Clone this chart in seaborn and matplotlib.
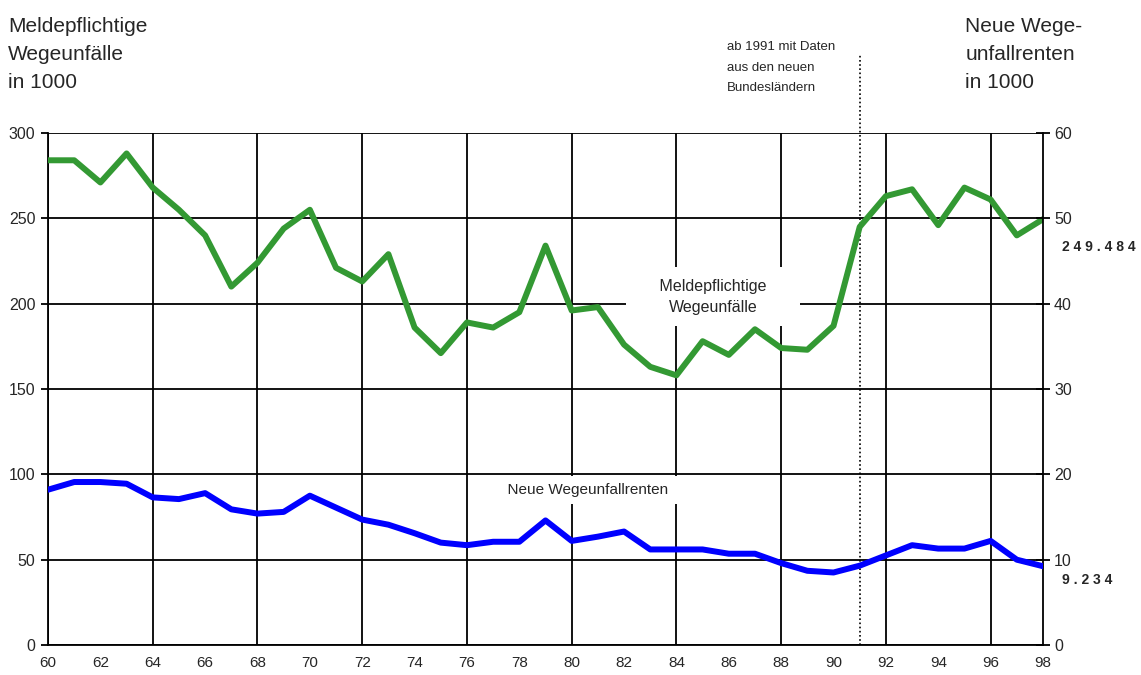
import numpy as np
import pandas as pd
import seaborn as sns
import matplotlib.pyplot as plt
from matplotlib.ticker import MultipleLocator, FixedLocator

sns.set_style("white")
plt.rcParams['font.family'] = ['Liberation Sans', 'DejaVu Sans']

# Daten ablesen (1960 - 1998)
jahre = list(range(60, 99))
wegeunfaelle = [284, 284, 271, 288, 268, 255, 240, 210, 224, 244,
                255, 221, 213, 229, 186, 171, 189, 186, 195, 234,
                196, 198, 176, 163, 158, 178, 170, 185, 174, 173,
                187, 245, 263, 267, 246, 268, 261, 240, 249.484]
wegeunfallrenten = [18.2, 19.1, 19.1, 18.9, 17.3, 17.1, 17.8, 15.9, 15.4, 15.6,
                    17.5, 16.1, 14.7, 14.1, 13.1, 12.0, 11.7, 12.1, 12.1, 14.6,
                    12.2, 12.7, 13.3, 11.2, 11.2, 11.2, 10.7, 10.7, 9.6, 8.7,
                    8.5, 9.3, 10.5, 11.7, 11.3, 11.3, 12.2, 10.0, 9.234]

df = pd.DataFrame({"jahr": jahre, "unfaelle": wegeunfaelle, "renten": wegeunfallrenten})

fig = plt.figure(figsize=(11.41, 6.75), dpi=100)
ax = fig.add_axes([0.0421, 0.0444, 0.872, 0.7586])
ax2 = ax.twinx()

# Gitter
ax.set_xlim(60, 98)
ax.set_ylim(0, 300)
ax2.set_ylim(0, 60)
ax.xaxis.set_major_locator(MultipleLocator(4))
ax.xaxis.set_minor_locator(FixedLocator(list(range(62, 99, 4))))
ax.xaxis.set_major_formatter(lambda v, p: f"{int(v)}")
ax.xaxis.set_minor_formatter(lambda v, p: f"{int(v)}")
ax.yaxis.set_major_locator(MultipleLocator(50))
ax2.yaxis.set_major_locator(MultipleLocator(10))
ax.grid(True, which="major", color="black", linewidth=1.3)
ax.set_axisbelow(True)
for sp in list(ax.spines.values()) + list(ax2.spines.values()):
    sp.set_visible(False)
for sp in [ax.spines["left"], ax.spines["bottom"], ax2.spines["right"]]:
    sp.set_visible(True)
    sp.set_color("black")
    sp.set_linewidth(1.3)

ax.tick_params(axis="x", which="both", direction="out", length=5, width=1.3,
               color="black", labelsize=11, pad=3)
ax.tick_params(axis="y", direction="out", length=5, width=1.3, color="black",
               labelsize=11.5, pad=4)
ax2.tick_params(axis="y", direction="inout", length=10, width=1.3, color="black",
                labelsize=11.5, pad=3)

sns.lineplot(data=df, x="jahr", y="unfaelle", ax=ax, color="#339933",
             linewidth=4.3, zorder=5)
sns.lineplot(data=df, x="jahr", y="renten", ax=ax2, color="#0000ff",
             linewidth=4.3, zorder=5)
ax.set_xlabel("")
ax.set_ylabel("")
ax2.set_ylabel("")

# Trennlinie 1991
ax.axvline(91, ymin=0, ymax=1.155, color="black", linestyle=(0, (1, 1.5)),
           linewidth=1.2, clip_on=False, zorder=3)

# Beschriftungen im Diagramm
ax.text(85.4, 204, "     Meldepflichtige     \nWegeunfälle", ha="center", va="center",
        fontsize=11.5, linespacing=1.55, zorder=4,
        bbox=dict(facecolor="white", edgecolor="none", pad=8))
ax.text(80.6, 91, "  Neue Wegeunfallrenten  ", ha="center", va="center",
        fontsize=11, zorder=4,
        bbox=dict(facecolor="white", edgecolor="none", pad=5))

ax2.text(1.019, wegeunfaelle[-1] / 5 - 3.3, "2 4 9 . 4 8 4", transform=ax2.get_yaxis_transform(),
         ha="left", va="center", fontsize=10, fontweight="bold")
ax2.text(1.019, wegeunfallrenten[-1] - 1.6, "9 . 2 3 4", transform=ax2.get_yaxis_transform(),
         ha="left", va="center", fontsize=10, fontweight="bold")

# Kopftexte
fig.text(0.007, 0.975, "Meldepflichtige\nWegeunfälle\nin 1000", ha="left", va="top",
         fontsize=15, linespacing=1.6)
fig.text(0.846, 0.975, "Neue Wege-\nunfallrenten\nin 1000", ha="left", va="top",
         fontsize=15, linespacing=1.6)
fig.text(0.637, 0.939, "ab 1991 mit Daten\naus den neuen\nBundesländern", ha="left", va="top",
         fontsize=9.5, linespacing=1.95)

fig.savefig("out.png", dpi=100)
